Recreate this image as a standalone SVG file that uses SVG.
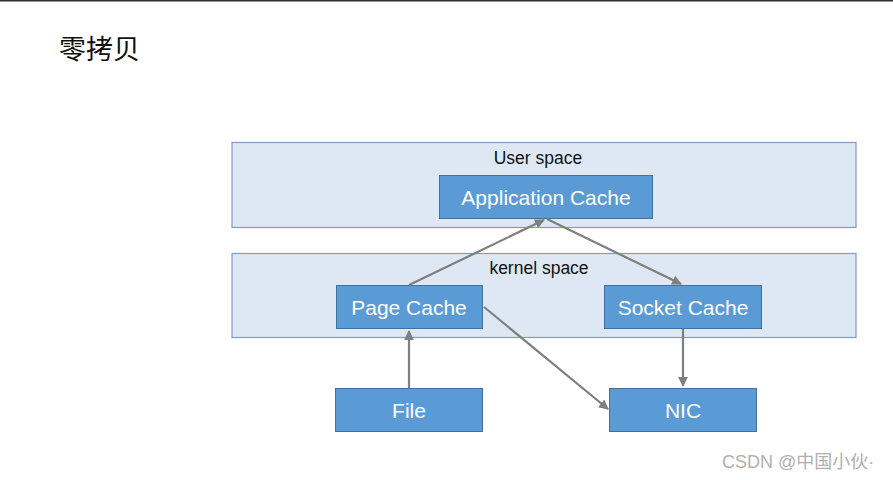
<svg xmlns="http://www.w3.org/2000/svg" width="893" height="480" viewBox="0 0 893 480">
<defs>
<style>
.bg{fill:#ffffff}
.region{fill:#dee8f4;stroke:#7f9dc4;stroke-width:1.2}
.node{fill:#5b9bd5;stroke:#41719c;stroke-width:1}
.ntext{font-family:"Liberation Sans",Arial,sans-serif;font-size:21px;fill:#ffffff;text-anchor:middle}
.rtext{font-family:"Liberation Sans",Arial,sans-serif;font-size:17.5px;fill:#111111;text-anchor:middle}
.edge{stroke:#7f7f7f;stroke-width:2.2;fill:none}
</style>
<marker id="arr" viewBox="0 0 10 10" refX="9" refY="5" markerWidth="4.5" markerHeight="4.5" orient="auto" markerUnits="strokeWidth">
<path d="M0,0 L10,5 L0,10 z" fill="#7f7f7f"/>
</marker>
</defs>
<rect class="bg" x="0" y="0" width="893" height="480"/>
<rect x="0" y="0" width="893" height="1.5" fill="#2b2f33"/>
<text x="59" y="59" font-family="'Noto Sans CJK SC','Noto Sans',sans-serif" font-size="27" fill="#111111">零拷贝</text>

<g id="user-space">
<rect class="region" x="232" y="142.5" width="624" height="85"/>
<text class="rtext" x="538" y="164">User space</text>
</g>
<g id="kernel-space">
<rect class="region" x="232" y="253.5" width="624" height="84"/>
<text class="rtext" x="539" y="274">kernel space</text>
</g>
<g id="app-cache">
<rect class="node" x="439.5" y="175.5" width="213" height="43"/>
<text class="ntext" x="546" y="204.5">Application Cache</text>
</g>
<g id="page-cache">
<rect class="node" x="336.5" y="285.5" width="146" height="43"/>
<text class="ntext" x="409" y="315">Page Cache</text>
</g>
<g id="socket-cache">
<rect class="node" x="604.5" y="285.5" width="157" height="43"/>
<text class="ntext" x="683" y="315">Socket Cache</text>
</g>
<g id="file">
<rect class="node" x="335.5" y="388.5" width="147" height="43"/>
<text class="ntext" x="409" y="418">File</text>
</g>
<g id="nic">
<rect class="node" x="609.5" y="388.5" width="147" height="43"/>
<text class="ntext" x="683" y="418">NIC</text>
</g>

<g id="connectors">
<line class="edge" x1="409" y1="285" x2="544" y2="220" marker-end="url(#arr)"/>
<line class="edge" x1="547" y1="219" x2="681" y2="284" marker-end="url(#arr)"/>
<line class="edge" x1="409" y1="388" x2="409" y2="331" marker-end="url(#arr)"/>
<line class="edge" x1="683" y1="329" x2="683" y2="386" marker-end="url(#arr)"/>
<line class="edge" x1="484" y1="307" x2="608" y2="409" marker-end="url(#arr)"/>
</g>

<text x="722" y="468" font-family="'Liberation Sans','Noto Sans CJK SC',sans-serif" font-size="18" fill="#b0b0b0">CSDN @中国小伙·</text>
</svg>
